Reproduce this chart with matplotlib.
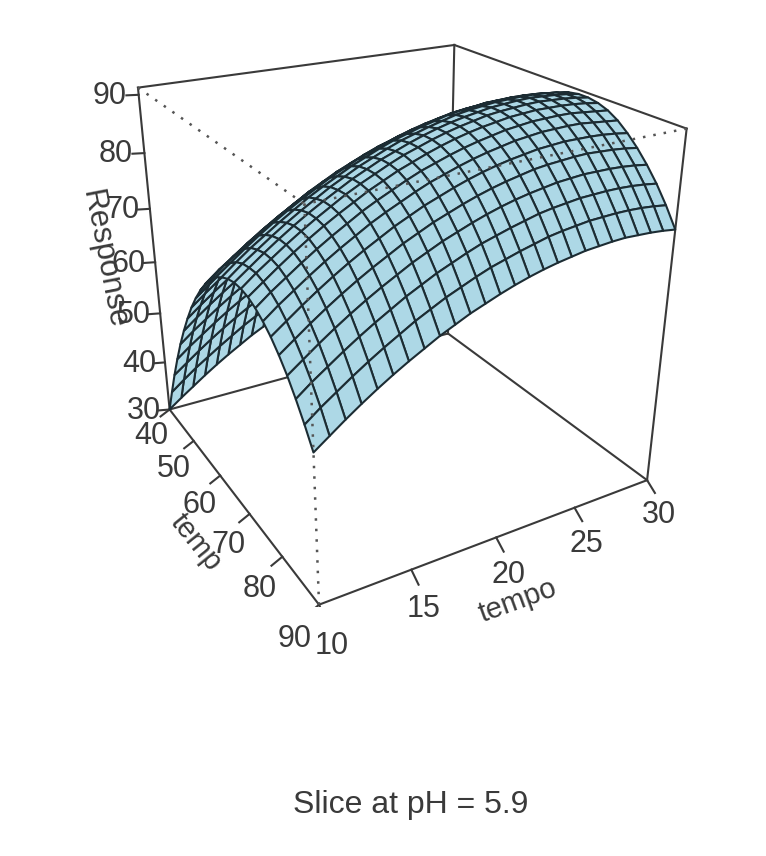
import numpy as np
import matplotlib
matplotlib.use("Agg")
import matplotlib.pyplot as plt
from mpl_toolkits.mplot3d import proj3d

plt.rcParams['font.family'] = ['Liberation Sans', 'DejaVu Sans']

temp = [40, 42, 44, 46, 48, 50, 52, 54, 56, 58, 60, 62, 64,
        66, 68, 70, 72, 74, 76, 78, 80, 82, 84, 86, 88, 90]
tempo = [10, 10.8, 11.6, 12.4, 13.2, 14, 14.8, 15.6, 16.4, 17.2, 18, 18.8, 19.6,
         20.4, 21.2, 22, 22.8, 23.6, 24.4, 25.2, 26, 26.8, 27.6, 28.4, 29.2, 30]
# one row per temp, one column per tempo
response = [
    [30.0, 31.8, 33.5, 35.2, 36.8, 38.3, 39.7, 41.1, 42.3, 43.5, 44.5, 45.5, 46.4, 47.1, 47.8, 48.4, 49.0, 49.4, 49.7, 50.0, 50.1, 50.2, 50.2, 50.1, 49.9, 49.6],
    [35.0, 36.9, 38.7, 40.3, 41.9, 43.4, 44.9, 46.2, 47.4, 48.6, 49.6, 50.6, 51.5, 52.2, 52.9, 53.5, 54.1, 54.5, 54.8, 55.1, 55.2, 55.3, 55.3, 55.2, 55.0, 54.7],
    [39.8, 41.6, 43.4, 45.1, 46.7, 48.2, 49.6, 50.9, 52.2, 53.3, 54.4, 55.3, 56.2, 57.0, 57.7, 58.3, 58.8, 59.3, 59.6, 59.8, 60.0, 60.1, 60.0, 59.9, 59.7, 59.4],
    [44.2, 46.1, 47.8, 49.5, 51.1, 52.6, 54.0, 55.4, 56.6, 57.8, 58.8, 59.8, 60.7, 61.4, 62.1, 62.7, 63.3, 63.7, 64.0, 64.3, 64.4, 64.5, 64.5, 64.4, 64.2, 63.9],
    [48.3, 50.2, 51.9, 53.6, 55.2, 56.7, 58.1, 59.5, 60.7, 61.8, 62.9, 63.9, 64.7, 65.5, 66.2, 66.8, 67.3, 67.8, 68.1, 68.3, 68.5, 68.6, 68.5, 68.4, 68.2, 67.9],
    [52.0, 53.9, 55.7, 57.4, 59.0, 60.5, 61.9, 63.2, 64.4, 65.6, 66.6, 67.6, 68.5, 69.3, 70.0, 70.6, 71.1, 71.5, 71.9, 72.1, 72.3, 72.3, 72.3, 72.2, 72.0, 71.7],
    [55.4, 57.3, 59.1, 60.8, 62.4, 63.9, 65.3, 66.6, 67.8, 69.0, 70.0, 71.0, 71.9, 72.7, 73.4, 74.0, 74.5, 74.9, 75.3, 75.5, 75.7, 75.7, 75.7, 75.6, 75.4, 75.1],
    [58.5, 60.4, 62.2, 63.8, 65.4, 66.9, 68.4, 69.7, 70.9, 72.1, 73.1, 74.1, 75.0, 75.7, 76.4, 77.0, 77.6, 78.0, 78.3, 78.6, 78.7, 78.8, 78.8, 78.7, 78.5, 78.2],
    [61.2, 63.1, 64.9, 66.6, 68.2, 69.7, 71.1, 72.4, 73.6, 74.8, 75.8, 76.8, 77.7, 78.5, 79.2, 79.8, 80.3, 80.7, 81.1, 81.3, 81.5, 81.5, 81.5, 81.4, 81.2, 80.9],
    [63.6, 65.5, 67.3, 69.0, 70.6, 72.1, 73.5, 74.8, 76.0, 77.2, 78.2, 79.2, 80.1, 80.9, 81.6, 82.2, 82.7, 83.1, 83.5, 83.7, 83.9, 83.9, 83.9, 83.8, 83.6, 83.3],
    [65.7, 67.6, 69.3, 71.0, 72.6, 74.1, 75.5, 76.9, 78.1, 79.2, 80.3, 81.3, 82.1, 82.9, 83.6, 84.2, 84.7, 85.2, 85.5, 85.8, 85.9, 86.0, 86.0, 85.8, 85.6, 85.4],
    [67.4, 69.3, 71.0, 72.7, 74.3, 75.8, 77.2, 78.6, 79.8, 81.0, 82.0, 83.0, 83.9, 84.6, 85.3, 85.9, 86.5, 86.9, 87.2, 87.5, 87.6, 87.7, 87.7, 87.6, 87.4, 87.1],
    [68.8, 70.6, 72.4, 74.1, 75.7, 77.2, 78.6, 79.9, 81.2, 82.3, 83.4, 84.3, 85.2, 86.0, 86.7, 87.3, 87.8, 88.3, 88.6, 88.8, 89.0, 89.1, 89.0, 88.9, 88.7, 88.4],
    [69.8, 71.7, 73.5, 75.1, 76.7, 78.2, 79.7, 81.0, 82.2, 83.4, 84.4, 85.4, 86.3, 87.0, 87.7, 88.3, 88.9, 89.3, 89.6, 89.9, 90.0, 90.1, 90.1, 90.0, 89.8, 89.5],
    [70.5, 72.4, 74.1, 75.8, 77.4, 78.9, 80.3, 81.7, 82.9, 84.1, 85.1, 86.1, 87.0, 87.7, 88.4, 89.0, 89.6, 90.0, 90.3, 90.6, 90.7, 90.8, 90.8, 90.7, 90.5, 90.2],
    [70.9, 72.7, 74.5, 76.2, 77.8, 79.3, 80.7, 82.0, 83.3, 84.4, 85.5, 86.4, 87.3, 88.1, 88.8, 89.4, 89.9, 90.3, 90.7, 90.9, 91.1, 91.2, 91.1, 91.0, 90.8, 90.5],
    [70.9, 72.8, 74.5, 76.2, 77.8, 79.3, 80.7, 82.1, 83.3, 84.4, 85.5, 86.5, 87.3, 88.1, 88.8, 89.4, 89.9, 90.4, 90.7, 90.9, 91.1, 91.2, 91.1, 91.0, 90.8, 90.5],
    [70.6, 72.4, 74.2, 75.9, 77.5, 79.0, 80.4, 81.7, 83.0, 84.1, 85.2, 86.1, 87.0, 87.8, 88.5, 89.1, 89.6, 90.0, 90.4, 90.6, 90.8, 90.8, 90.8, 90.7, 90.5, 90.2],
    [69.9, 71.8, 73.5, 75.2, 76.8, 78.3, 79.7, 81.1, 82.3, 83.4, 84.5, 85.5, 86.3, 87.1, 87.8, 88.4, 88.9, 89.4, 89.7, 90.0, 90.1, 90.2, 90.2, 90.0, 89.8, 89.6],
    [68.9, 70.8, 72.5, 74.2, 75.8, 77.3, 78.7, 80.1, 81.3, 82.4, 83.5, 84.5, 85.3, 86.1, 86.8, 87.4, 87.9, 88.4, 88.7, 89.0, 89.1, 89.2, 89.2, 89.0, 88.8, 88.6],
    [67.6, 69.4, 71.2, 72.9, 74.5, 76.0, 77.4, 78.7, 80.0, 81.1, 82.2, 83.1, 84.0, 84.8, 85.5, 86.1, 86.6, 87.0, 87.4, 87.6, 87.8, 87.8, 87.8, 87.7, 87.5, 87.2],
    [65.9, 67.7, 69.5, 71.2, 72.8, 74.3, 75.7, 77.0, 78.3, 79.4, 80.5, 81.4, 82.3, 83.1, 83.8, 84.4, 84.9, 85.4, 85.7, 85.9, 86.1, 86.2, 86.1, 86.0, 85.8, 85.5],
    [63.9, 65.7, 67.5, 69.2, 70.8, 72.3, 73.7, 75.0, 76.3, 77.4, 78.5, 79.4, 80.3, 81.1, 81.8, 82.4, 82.9, 83.3, 83.7, 83.9, 84.1, 84.1, 84.1, 84.0, 83.8, 83.5],
    [61.5, 63.4, 65.1, 66.8, 68.4, 69.9, 71.3, 72.7, 73.9, 75.1, 76.1, 77.1, 78.0, 78.7, 79.4, 80.0, 80.6, 81.0, 81.3, 81.6, 81.7, 81.8, 81.8, 81.7, 81.5, 81.2],
    [58.8, 60.7, 62.4, 64.1, 65.7, 67.2, 68.6, 70.0, 71.2, 72.4, 73.4, 74.4, 75.3, 76.0, 76.7, 77.3, 77.9, 78.3, 78.6, 78.9, 79.0, 79.1, 79.1, 79.0, 78.8, 78.5],
    [55.8, 57.6, 59.4, 61.1, 62.7, 64.2, 65.6, 66.9, 68.2, 69.3, 70.4, 71.3, 72.2, 73.0, 73.7, 74.3, 74.8, 75.2, 75.6, 75.8, 76.0, 76.1, 76.0, 75.9, 75.7, 75.4],
]
temp_ticks = [40, 50, 60, 70, 80, 90]
tempo_ticks = [10, 15, 20, 25, 30]
z_ticks = [30, 40, 50, 60, 70, 80, 90]

ZTOP = 91.2
ZBOT = 30
LC = '#3a3a3a'
FS = 22

T, P = np.meshgrid(temp, tempo, indexing='ij')
Z = np.array(response)

fig = plt.figure(figsize=(7.66, 8.56), dpi=100)
ax = fig.add_axes([75.163/766, (856-607.297)/856, 624.651/766, 624.651/856],
                  projection='3d', computed_zorder=False)
ax.set_xlim(40, 90, view_margin=0)
ax.set_ylim(10, 30, view_margin=0)
ax.set_zlim(ZBOT, ZTOP, view_margin=0)
ax.view_init(24.883, -30.137)
ax.set_proj_type('persp', focal_length=0.3331)
ax.set_box_aspect((1, 0.9902, 0.9840))
ax.set_axis_off()
ax.patch.set_alpha(0)


def line(a, b, ls='-', z=1, lw=1.5, color=LC):
    ax.plot([a[0], b[0]], [a[1], b[1]], [a[2], b[2]], color=color, lw=lw, ls=ls, zorder=z)


def label(x, y, z, txt):
    X, Y, _ = proj3d.proj_transform(x, y, z, ax.get_proj())
    ax.text2D(X, Y, txt, transform=ax.transData, fontsize=FS, color=LC, ha='center', va='center')


def pxtext(x, y, txt, rot=0, fs=FS):
    fig.text(x/766, 1-y/856, txt, fontsize=fs, color=LC, ha='center', va='center',
             rotation=rot, rotation_mode='anchor')


# box edges behind the surface
for a, b in [((40, 10), (90, 10)), ((90, 10), (90, 30)), ((90, 30), (40, 30)), ((40, 30), (40, 10))]:
    line((*a, ZBOT), (*b, ZBOT))
for a, b in [((40, 10), (40, 30)), ((40, 30), (90, 30))]:
    line((*a, ZTOP), (*b, ZTOP))
for a in [(40, 10), (40, 30), (90, 30)]:
    line((*a, ZBOT), (*a, ZTOP))

ax.plot_surface(T, P, Z, rstride=1, cstride=1, color='#add8e6', edgecolor='#1c2c33',
                linewidth=1.5, shade=False, zorder=2)

# front edges are dotted and go over the surface
dots = (0, (1, 3.2))
line((90, 10, ZBOT), (90, 10, ZTOP), ls=dots, z=3, lw=1.8, color='#555555')
line((40, 10, ZTOP), (90, 10, ZTOP), ls=dots, z=3, lw=1.8, color='#555555')
line((90, 30, ZTOP), (90, 10, ZTOP), ls=dots, z=3, lw=1.8, color='#555555')

for t in temp_ticks:
    line((t, 10, ZBOT), (t, 9.4, ZBOT-0.95))
    label(t, 8.7, ZBOT-4.5, str(t))
for t in tempo_ticks:
    line((90, t, ZBOT), (91.7, t, ZBOT-1.3))
    label(92.9, t, ZBOT-4.8, str(t))
for t in z_ticks:
    line((40, 10, t), (39.45, 9.4, t))
    label(38.6, 8.6, t, str(t))

pxtext(104, 259, 'Response', -79, 22.5)
pxtext(196, 542, 'temp', -51, 21)
pxtext(518, 601, 'tempo', 20, 21)
pxtext(411, 805, 'Slice at pH = 5.9', 0, 23)
fig.savefig("out.png", dpi=100)
